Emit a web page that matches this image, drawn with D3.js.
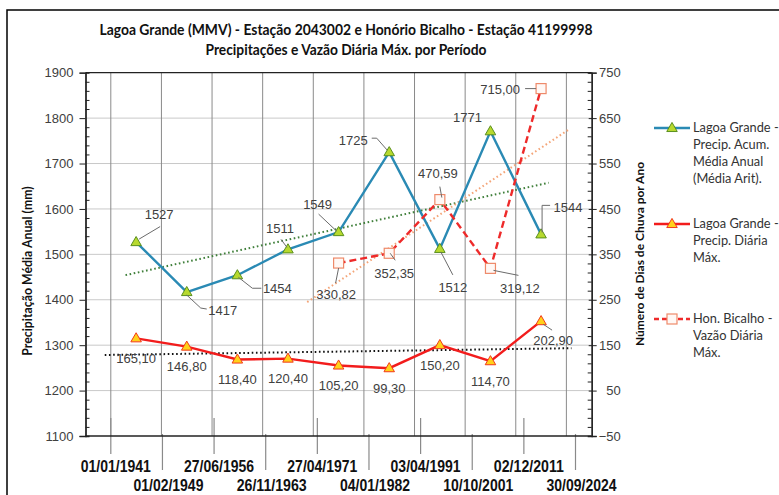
<!DOCTYPE html>
<html><head><meta charset="utf-8">
<script src="https://cdn.jsdelivr.net/npm/d3@7"></script>
<style>body{margin:0;background:#fff}</style>
</head><body>
<svg id="c" width="779" height="495"></svg>
<script>
// ---------- DATA ----------
const periods = [0,1,2,3,4,5,6,7,8];
const precipMediaAnual = [1527,1417,1454,1511,1549,1725,1512,1771,1544];
const precipDiariaMax = [165.10,146.80,118.40,120.40,105.20,99.30,150.20,114.70,202.90];
const vazaoDiariaMax = [null,null,null,null,330.82,352.35,470.59,319.12,715.00];
const dateLabels = ["01/01/1941","01/02/1949","27/06/1956","26/11/1963","27/04/1971","04/01/1982","03/04/1991","10/10/2001","02/12/2011","30/09/2024"];
const leftTicks = [1100,1200,1300,1400,1500,1600,1700,1800,1900];
const rightTicks = [-50,50,150,250,350,450,550,650,750];
const titleLines = ["Lagoa Grande (MMV) -  Estação 2043002 e Honório Bicalho -  Estação 41199998","Precipitações e Vazão Diária Máx. por Período"];
const legendItems = [
  ["Lagoa Grande -","Precip. Acum.","Média Anual","(Média Arit)."],
  ["Lagoa Grande -","Precip. Diária","Máx."],
  ["Hon. Bicalho -","Vazão Diária","Máx."]
];
// trendline extents (period index)
const trendMediaExt = [-0.21, 8.15];
const trendMaxExt = [-0.62, 8.6];
const trendVazaoExt = [3.38, 8.57];

// ---------- LAYOUT (label offsets relative to point, leader polylines) ----------
const mediaLabelPos = [
  {dx:23,dy:-28,lead:[[3,-3],[24,-15.5]]},
  {dx:36,dy:18,lead:[[0,3],[14,16],[20,17]]},
  {dx:40,dy:13,lead:[[1,2],[15,13],[24,13]]},
  {dx:-8,dy:-21,lead:[[-1,-2],[-7,-10]]},
  {dx:-21,dy:-28,lead:[[-2,-1],[-20,-18]]},
  {dx:-36,dy:-12,lead:[[-2,-2],[-12.5,-14],[-17.5,-14]]},
  {dx:13,dy:39,lead:[[1,3],[13,26]]},
  {dx:-23,dy:-14,lead:null},
  {dx:27,dy:-27,lead:[[1,-2],[1,-29],[9,-29]]}
];
const maxLabelPos = [
  {dx:0,dy:20},{dx:0,dy:20},{dx:0,dy:20},{dx:0,dy:20},{dx:0,dy:20},
  {dx:0,dy:20},{dx:0,dy:20},{dx:0,dy:20},{dx:12,dy:19,lead:[[2,3],[11,9]]}
];
const vazaoLabelPos = [null,null,null,null,
  {dx:-2.5,dy:31,lead:[[0,5],[-3,20]]},
  {dx:5,dy:20,lead:[[1,0],[6,7]]},
  {dx:-2,dy:-26,lead:[[2,-2],[0,-13]]},
  {dx:29.5,dy:20,lead:[[3,2],[28,7]]},
  {dx:-41,dy:0.5,lead:[[-5,0],[-16,0]]}
];

const W=779,H=495;
const L=85.5,R=591.7,T=72.7,B=436;
const svg=d3.select("#c");
svg.append("rect").attr("width",W).attr("height",H).attr("fill","#fff");
svg.append("rect").attr("x",7).attr("y",10).attr("width",W).attr("height",H)
  .attr("fill","none").attr("stroke","#000").attr("stroke-width",1.5);

const x=d3.scaleLinear().domain([-1,9]).range([L,R]);
const yL=d3.scaleLinear().domain([1100,1900]).range([B,T]);
const yR=d3.scaleLinear().domain([-50,750]).range([B,T]);

const C={blue:"#2a8ab4",red:"#f21c1c",dash:"#ee2a2a",greenFill:"#b7d92e",greenStroke:"#5a8f1f",
  yFill:"#ffd11a",yStroke:"#f23a1a",sqStroke:"#ee8a6a",label:"#404040",lead:"#6b6b6b"};

// title
const titleWidths=[493,281];
svg.selectAll("text.title").data(titleLines).join("text")
  .attr("x",346).attr("y",(d,i)=>30+i*20).attr("dy","0.35em")
  .attr("text-anchor","middle")
  .attr("textLength",(d,i)=>titleWidths[i]).attr("lengthAdjust","spacingAndGlyphs")
  .attr("font-family","Lato,'Open Sans',sans-serif")
  .attr("font-weight","bold").attr("font-size",14.5).attr("fill","#111").text(d=>d);

// gridlines
const g=svg.append("g");
g.selectAll("line.hg").data(leftTicks.filter(v=>v>1100&&v<1900)).join("line")
  .attr("x1",L).attr("x2",R).attr("y1",d=>yL(d)).attr("y2",d=>yL(d))
  .attr("stroke","#c9c9c9").attr("stroke-width",1);
g.selectAll("line.vg").data(d3.range(-0.5,9,1)).join("line")
  .attr("x1",d=>x(d)).attr("x2",d=>x(d)).attr("y1",T).attr("y2",B)
  .attr("stroke","#8a8a8a").attr("stroke-width",1);
// top border
g.append("line").attr("x1",L).attr("x2",R).attr("y1",T).attr("y2",T).attr("stroke","#222").attr("stroke-width",1.2);

// date lines and labels
const dx=d3.scalePoint().domain(dateLabels).range([x(-0.5),x(8.68)]);
const dg=svg.append("g");
dateLabels.forEach((d,k)=>{
  const xx=dx(d);
  const odd=k%2===1;
  dg.append("line").attr("x1",xx).attr("x2",xx).attr("y1",odd?434:418).attr("y2",odd?470:454)
    .attr("stroke","#8a8a8a").attr("stroke-width",1.2);
  dg.append("text").attr("x",xx+(odd?6:5)).attr("y",odd?485:466).attr("dy","0.35em")
    .attr("text-anchor","middle").attr("textLength",70).attr("lengthAdjust","spacingAndGlyphs")
    .attr("font-family","'Liberation Sans',Arial,sans-serif")
    .attr("font-weight","bold").attr("font-size",16.5).attr("fill","#111").text(d);
});

// axes
const tickFont="'Liberation Sans',Arial,sans-serif";
const axL=svg.append("g").attr("transform",`translate(${L},0)`)
  .call(d3.axisLeft(yL).tickValues(leftTicks).tickSize(6).tickPadding(6).tickFormat(d3.format("d")));
const axLm=svg.append("g").attr("transform",`translate(${L},0)`)
  .call(d3.axisRight(yL).tickValues(d3.range(1100,1901,20).filter(v=>v%100!==0)).tickSize(4).tickFormat(""));
const axR=svg.append("g").attr("transform",`translate(${R},0)`)
  .call(d3.axisRight(yR).tickValues(rightTicks).tickSize(5).tickPadding(24).tickFormat(d3.format("d")));
const axRm=svg.append("g").attr("transform",`translate(${R},0)`)
  .call(d3.axisLeft(yR).tickValues(d3.range(-50,751,20).filter(v=>(v+50)%100!==0)).tickSize(4).tickFormat(""));
axR.selectAll("line").attr("x1",-3);
axR.selectAll("text").attr("text-anchor","end");
[axL,axLm,axR,axRm].forEach(a=>{
  a.selectAll("path").attr("stroke","#222").attr("stroke-width",1.3);
  a.selectAll("line").attr("stroke","#222");
  a.selectAll("text").attr("font-family",tickFont).attr("font-size",13).attr("fill",C.label);
});
svg.append("line").attr("x1",L).attr("x2",R).attr("y1",B).attr("y2",B).attr("stroke","#222").attr("stroke-width",1.3);

// axis titles
svg.append("text").attr("transform",`translate(28,271) rotate(-90)`).attr("text-anchor","middle").attr("dy","0.35em")
  .attr("font-family","Lato,'Open Sans',sans-serif").attr("font-weight","bold").attr("font-size",12.3).attr("fill","#111")
  .text("Precipitação Média Anual (mm)");
svg.append("text").attr("transform",`translate(640,254) rotate(-90)`).attr("text-anchor","middle").attr("dy","0.35em")
  .attr("font-family","Lato,'Open Sans',sans-serif").attr("font-weight","bold").attr("font-size",12).attr("fill","#111")
  .text("Número de Dias de Chuva por Ano");

// trendlines (least squares over the series)
function trend(xs,ys){
  const pts=xs.map((xv,i)=>[xv,ys[i]]).filter(p=>p[1]!=null);
  const mx=d3.mean(pts,p=>p[0]),my=d3.mean(pts,p=>p[1]);
  const sxy=d3.sum(pts,p=>(p[0]-mx)*(p[1]-my)),sxx=d3.sum(pts,p=>(p[0]-mx)**2);
  const b=sxy/sxx,a=my-b*mx;
  return t=>a+b*t;
}
const tg=svg.append("g");
function drawTrend(f,ext,ys,color){
  tg.append("path").datum(ext).attr("d",d3.line().x(d=>x(d)).y(d=>ys(f(d))))
    .attr("fill","none").attr("stroke",color).attr("stroke-width",2).attr("stroke-dasharray","1.6,2.6");
}
drawTrend(trend(periods,precipMediaAnual),trendMediaExt,yL,"#3f7f3a");
drawTrend(trend(periods,precipDiariaMax),trendMaxExt,yR,"#111");
drawTrend(trend(periods,vazaoDiariaMax),trendVazaoExt,yR,"#f4a578");

// series lines
const sg=svg.append("g");
sg.append("path").datum(periods).attr("d",d3.line().x(i=>x(i)).y(i=>yL(precipMediaAnual[i])))
  .attr("fill","none").attr("stroke",C.blue).attr("stroke-width",2.4);
sg.append("path").datum(periods).attr("d",d3.line().x(i=>x(i)).y(i=>yR(precipDiariaMax[i])))
  .attr("fill","none").attr("stroke",C.red).attr("stroke-width",2.4);
sg.append("path").datum(periods.filter(i=>vazaoDiariaMax[i]!=null))
  .attr("d",d3.line().x(i=>x(i)).y(i=>yR(vazaoDiariaMax[i])))
  .attr("fill","none").attr("stroke",C.dash).attr("stroke-width",2.4).attr("stroke-dasharray","7,4");

// markers
const tri=d3.symbol(d3.symbolTriangle).size(48);
sg.selectAll("path.m1").data(periods).join("path")
  .attr("transform",i=>`translate(${x(i)},${yL(precipMediaAnual[i])+0.5})`).attr("d",tri)
  .attr("fill",C.greenFill).attr("stroke",C.greenStroke).attr("stroke-width",1);
sg.selectAll("path.m2").data(periods).join("path")
  .attr("transform",i=>`translate(${x(i)},${yR(precipDiariaMax[i])+0.5})`).attr("d",tri)
  .attr("fill",C.yFill).attr("stroke",C.yStroke).attr("stroke-width",1);
sg.selectAll("rect.m3").data(periods.filter(i=>vazaoDiariaMax[i]!=null)).join("rect")
  .attr("x",i=>x(i)-5).attr("y",i=>yR(vazaoDiariaMax[i])-5).attr("width",10).attr("height",10)
  .attr("fill","#fff8f5").attr("stroke",C.sqStroke).attr("stroke-width",1.2);

// data labels
const lg=svg.append("g");
const fmtBR=v=>v.toFixed(2).replace(".",",");
function labels(values,ys,pos,fmt){
  values.forEach((v,i)=>{
    if(v==null||!pos[i])return;
    const px=x(i),py=ys(v),p=pos[i];
    if(p.lead){
      lg.append("path").attr("d",d3.line()(p.lead.map(q=>[px+q[0],py+q[1]])))
        .attr("fill","none").attr("stroke",C.lead).attr("stroke-width",1);
    }
    lg.append("text").attr("x",px+p.dx).attr("y",py+p.dy).attr("dy","0.35em").attr("text-anchor","middle")
      .attr("font-family",tickFont).attr("font-size",13).attr("fill",C.label).text(fmt(v));
  });
}
labels(precipMediaAnual,yL,mediaLabelPos,v=>String(v));
labels(precipDiariaMax,yR,maxLabelPos,fmtBR);
labels(vazaoDiariaMax,yR,vazaoLabelPos,fmtBR);

// legend
const legY=[128,224,319];
const leg=svg.append("g");
legendItems.forEach((lines,k)=>{
  const y=legY[k];
  const ln=leg.append("line").attr("x1",654).attr("x2",690).attr("y1",y).attr("y2",y).attr("stroke-width",2.4);
  if(k===0){ln.attr("stroke",C.blue);
    leg.append("path").attr("transform",`translate(672,${y+0.5})`).attr("d",tri).attr("fill",C.greenFill).attr("stroke",C.greenStroke);}
  if(k===1){ln.attr("stroke",C.red);
    leg.append("path").attr("transform",`translate(672,${y+0.5})`).attr("d",tri).attr("fill",C.yFill).attr("stroke",C.yStroke);}
  if(k===2){ln.attr("stroke",C.dash).attr("stroke-dasharray","5,3");
    leg.append("rect").attr("x",667).attr("y",y-5).attr("width",10).attr("height",10).attr("fill","#fff8f5").attr("stroke",C.sqStroke).attr("stroke-width",1.2);}
  leg.selectAll(null).data(lines).join("text").attr("x",693).attr("y",(d,j)=>y+j*17).attr("dy","0.35em")
    .attr("font-family","Lato,'Open Sans',sans-serif").attr("font-size",12.8).attr("fill","#333").text(d=>d);
});
</script>
</body></html>
